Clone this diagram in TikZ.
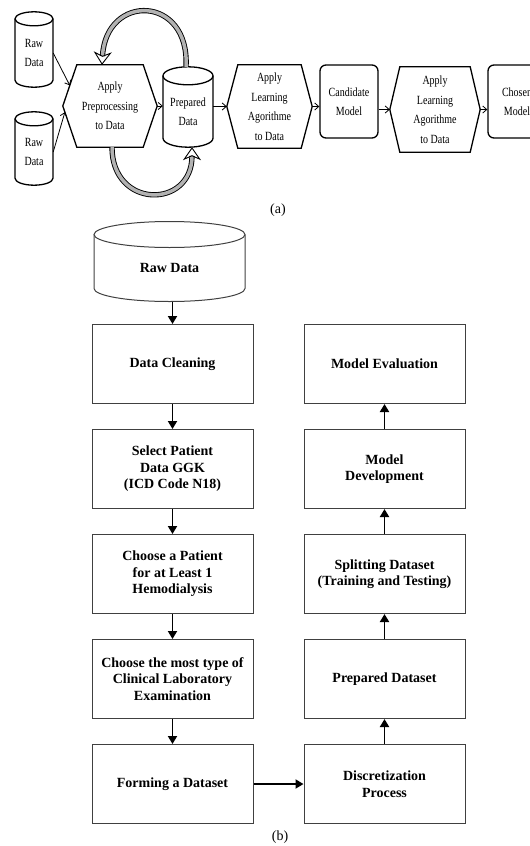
\documentclass[tikz,border=0pt]{standalone}
\usepackage{fontspec}
\setmainfont{Liberation Serif}
\newfontfamily\narrowrm[FakeStretch=0.8]{Liberation Serif}
\usetikzlibrary{positioning,arrows.meta,calc}

\newcommand{\drum}[4][]{%
  \draw[#1] ([xshift=-#3]#2.north) -- ([xshift=-#3,yshift=#4]#2.south)
    arc[start angle=180,end angle=360,x radius=#3,y radius=#4]
    -- ([xshift=#3]#2.north);
  \draw[#1] (#2.north) ellipse[x radius=#3,y radius=#4];}
\newcommand{\hexo}[3][]{%
  \draw[#1] ([xshift=#3]#2.north west) -- ([xshift=-#3]#2.north east) -- (#2.east)
    -- ([xshift=-#3]#2.south east) -- ([xshift=#3]#2.south west) -- (#2.west) -- cycle;}

\tikzset{
  stage/.style={align=center,inner sep=0pt,font=\narrowrm\fontsize{12.5}{19.5}\selectfont},
  model/.style={stage,draw,line width=1.3pt,rounded corners=6pt,minimum width=58,minimum height=73},
  flow/.style={line width=0.8pt,-{Straight Barb[length=4pt,width=7pt]}},
  loopband/.style={line width=0.9pt,double=black!30,double distance=3.5pt,
    -{Stealth[open,length=13pt,width=18pt,inset=4pt]}},
  procbox/.style={draw=black!75,line width=1pt,minimum width=161,minimum height=79,
    align=center,inner sep=2pt,font=\bfseries\fontsize{14}{16.5}\selectfont},
  down/.style={line width=1.8pt,-{Triangle[length=8pt,width=9pt]}},
  caption/.style={font=\fontsize{14}{16}\selectfont}
}

\begin{document}
\begin{tikzpicture}[x=1pt,y=1pt]
  \clip (0,0) rectangle (530,-846);

  \node[stage,minimum width=38,minimum height=68] (rawA) at (34,-53) {Raw\\Data};
  \node[stage,minimum width=38,minimum height=66] (rawB) at (34,-152) {Raw\\Data};
  \node[stage,minimum width=94,minimum height=82] (prepro) at (110,-106) {Apply\\Preprocessing\\to Data};
  \node[stage,minimum width=50,minimum height=71] (prepared) at (188,-111.5) {Prepared\\Data};
  \node[stage,minimum width=85,minimum height=83] (learnA) at (269.5,-106.5) {Apply\\Learning\\Agorithme\\to Data};
  \node[model] (candidate) at (349,-101.5) {Candidate\\Model};
  \node[stage,minimum width=90,minimum height=85] (learnB) at (435,-109.5) {Apply\\Learning\\Agorithme\\to Data};
  \node[model] (chosen) at (517,-101.5) {Chosen\\Model};
  \drum[line width=1.3pt]{rawA}{19}{7}
  \drum[line width=1.3pt]{rawB}{19}{7}
  \drum[line width=1.3pt]{prepared}{25}{9}
  \hexo[line width=1.3pt]{prepro}{14}
  \hexo[line width=1.3pt]{learnA}{11}
  \hexo[line width=1.3pt]{learnB}{10}

  \draw[flow] (rawA.east) -- ($(prepro.west)!0.5!([xshift=14]prepro.north west)$);
  \draw[flow] (rawB.east) -- ($(prepro.west)!0.15!([xshift=14]prepro.south west)$);
  \draw[flow] (prepro.east) -- (prepro.east -| prepared.west);
  \draw[flow] (prepared.east |- learnA.west) -- (learnA.west);
  \draw[flow] (learnA.east) -- (learnA.east -| candidate.west);
  \draw[flow] (candidate.east |- learnB.west) -- (learnB.west);
  \draw[flow] (learnB.east) -- (learnB.east -| chosen.west);
  \draw[loopband] ([xshift=-2,yshift=9]prepared.north) .. controls +(4,72) and +(4,72) .. ([xshift=-8]prepro.north);
  \draw[loopband] ([xshift=2]prepro.south) .. controls +(0,-62) and +(0,-62) .. ([xshift=4]prepared.south);
  \node[caption] (capa) at (278,-210) {(a)};

  \node[procbox,draw=none,minimum width=151,minimum height=66] (raw) at (169.5,-268) {Raw Data};
  \drum[draw=black!75,line width=1pt]{raw}{75.5}{13}
  \node[procbox] (clean) at (172.5,-364) {Data Cleaning};
  \node[procbox,below=25pt of clean] (select) {Select Patient\\Data GGK\\(ICD Code N18)};
  \node[procbox,below=25pt of select] (patient) {Choose a Patient\\for at Least 1\\Hemodialysis};
  \node[procbox,below=25pt of patient] (labtype) {Choose the most type of\\Clinical Laboratory\\Examination};
  \node[procbox,below=25pt of labtype] (forming) {Forming a Dataset};
  \node[procbox,right=50pt of forming] (discret) {Discretization\\Process};
  \node[procbox,above=25pt of discret] (prepset) {Prepared Dataset};
  \node[procbox,above=25pt of prepset] (splitting) {Splitting Dataset\\(Training and Testing)};
  \node[procbox,above=25pt of splitting] (develop) {Model\\Development};
  \node[procbox,above=25pt of develop] (evaluation) {Model Evaluation};

  \draw[down] (raw.south -| clean.north) -- (clean.north);
  \foreach \a/\b in {clean/select,select/patient,patient/labtype,labtype/forming,
                     discret/prepset,prepset/splitting,splitting/develop,develop/evaluation}
    \draw[down] (\a) -- (\b);
  \draw[down] (forming) -- (discret);
  \node[caption] (capb) at (280,-837) {(b)};
\end{tikzpicture}
\end{document}
